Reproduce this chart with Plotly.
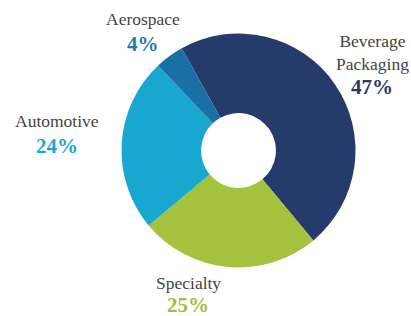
import plotly.graph_objects as go

segments = ["Beverage Packaging", "Specialty", "Automotive", "Aerospace"]
shares = [47, 25, 24, 4]
slice_colors = ["#253b6c", "#a5c23f", "#18a7d1", "#1a6fa5"]

label_names = ["Beverage<br>Packaging", "Specialty", "Automotive", "Aerospace"]
label_colors = ["#253b6c", "#9dbf3a", "#1aa7d4", "#2378b5"]

W, H = 411, 316
cx, cy, r = 238.5, 150.5, 117
SERIF = "Liberation Serif, Times New Roman, Times, serif"

fig = go.Figure(go.Pie(
    labels=segments,
    values=shares,
    hole=0.32,
    sort=False,
    direction="clockwise",
    rotation=-29,
    marker=dict(colors=slice_colors, line=dict(width=0)),
    textinfo="none",
    hoverinfo="label+percent",
    showlegend=False,
    domain=dict(x=[(cx - r) / W, (cx + r) / W],
                y=[(H - cy - r) / H, (H - cy + r) / H]),
))

# label anchor positions in pixels (x center, y of name center, y of percent center)
pos = {
    "Beverage Packaging": (372, 52, 87),
    "Specialty": (188, 283, 305),
    "Automotive": (57, 121, 146),
    "Aerospace": (143, 19, 44),
}

annotations = []
for seg, name, val, col in zip(segments, label_names, shares, label_colors):
    x, yn, yp = pos[seg]
    annotations.append(dict(
        x=x / W, y=1 - yn / H, xref="paper", yref="paper",
        text=name, showarrow=False, xanchor="center", yanchor="middle",
        font=dict(family=SERIF, size=17.5, color="#444444"),
    ))
    annotations.append(dict(
        x=x / W, y=1 - yp / H, xref="paper", yref="paper",
        text=f"<b>{val}%</b>", showarrow=False, xanchor="center", yanchor="middle",
        font=dict(family=SERIF, size=21, color=col),
    ))

fig.update_layout(
    width=W, height=H,
    margin=dict(l=0, r=0, t=0, b=0),
    paper_bgcolor="white",
    plot_bgcolor="white",
    annotations=annotations,
)

fig.write_html("out.html",
               config={"displayModeBar": False},
               post_script="document.body.style.margin='0';document.body.style.overflow='hidden';")
